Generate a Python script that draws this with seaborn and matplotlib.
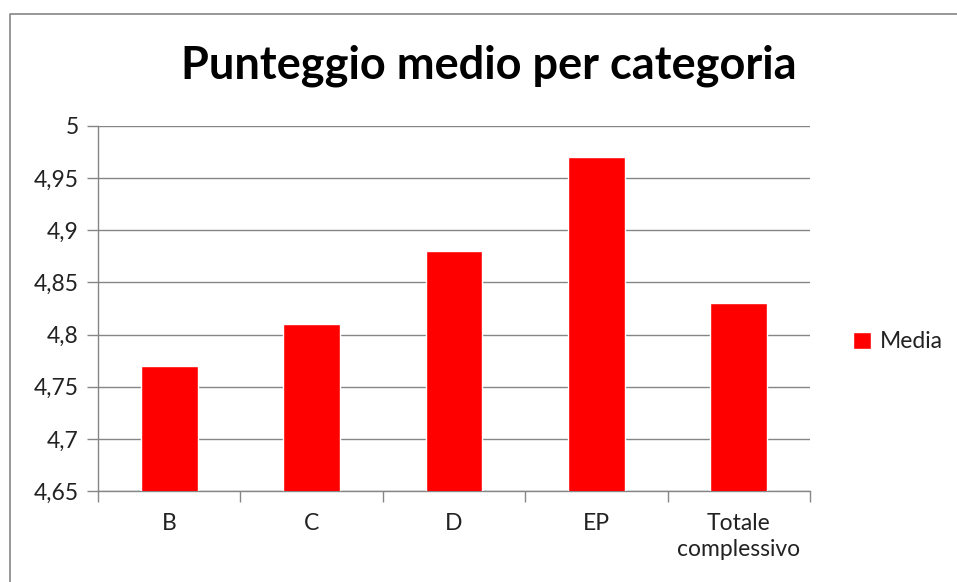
import matplotlib
matplotlib.use("Agg")
import matplotlib.pyplot as plt
import seaborn as sns
import pandas as pd
from matplotlib.lines import Line2D
from matplotlib.ticker import FuncFormatter, MultipleLocator, FixedLocator

# data
categories = ["B", "C", "D", "EP", "Totale\ncomplessivo"]
media = [4.77, 4.81, 4.88, 4.97, 4.83]
y_ticks = [4.65, 4.70, 4.75, 4.80, 4.85, 4.90, 4.95, 5.00]

df = pd.DataFrame({"categoria": categories, "media": media})

sns.set_theme(style="white")
plt.rcParams["font.family"] = ["Lato", "DejaVu Sans"]

W, H = 957, 582
fig = plt.figure(figsize=(W / 100, H / 100), dpi=100)
ax = fig.add_axes([98 / W, (H - 491) / H, (810 - 98) / W, (491 - 126) / H])

sns.barplot(data=df, x="categoria", y="media", color="#ff0000", width=0.4,
            saturation=1, label="Media", ax=ax, zorder=3)

ax.set_ylim(4.65, 5.0)
ax.set_xlim(-0.5, len(categories) - 0.5)
ax.yaxis.set_major_locator(FixedLocator(y_ticks))
ax.yaxis.set_major_formatter(FuncFormatter(lambda v, p: f"{v:.2f}".rstrip("0").rstrip(".").replace(".", ",")))
ax.grid(axis="y", color="#868686", linewidth=1, zorder=0)
ax.tick_params(axis="y", length=8, width=1, color="#868686", labelsize=16.5, pad=6, left=True,
               labelcolor="#222222")
ax.tick_params(axis="x", which="major", length=0, labelsize=16.5, pad=16, labelcolor="#222222")
ax.xaxis.set_minor_locator(MultipleLocator(1, offset=0.5))
ax.tick_params(axis="x", which="minor", length=8, width=1, color="#868686", bottom=True)
ax.set_xlabel("")
ax.set_ylabel("")
for t in ax.get_xticklabels():
    t.set_linespacing(1.3)
    t.set_verticalalignment("top")

for s in ["top", "right"]:
    ax.spines[s].set_visible(False)
for s in ["left", "bottom"]:
    ax.spines[s].set_color("#868686")
    ax.spines[s].set_linewidth(1)

fig.text(489 / W, 1 - 66 / H, "Punteggio medio per categoria", ha="center", va="center",
         fontsize=32.5, fontweight="bold", color="black")

ax.legend(loc="center left", bbox_to_anchor=(832 / W, 1 - 342 / H), bbox_transform=fig.transFigure,
          frameon=False, fontsize=16.5, handlelength=0.8, handleheight=0.8, handletextpad=0.4,
          labelcolor="#222222")

# chart frame (left and top edges visible)
fig.add_artist(Line2D([10 / W, 10 / W, 1], [0, 1 - 14 / H, 1 - 14 / H], color="#868686", linewidth=1.2,
                      transform=fig.transFigure))

fig.savefig("out.png", dpi=100)
